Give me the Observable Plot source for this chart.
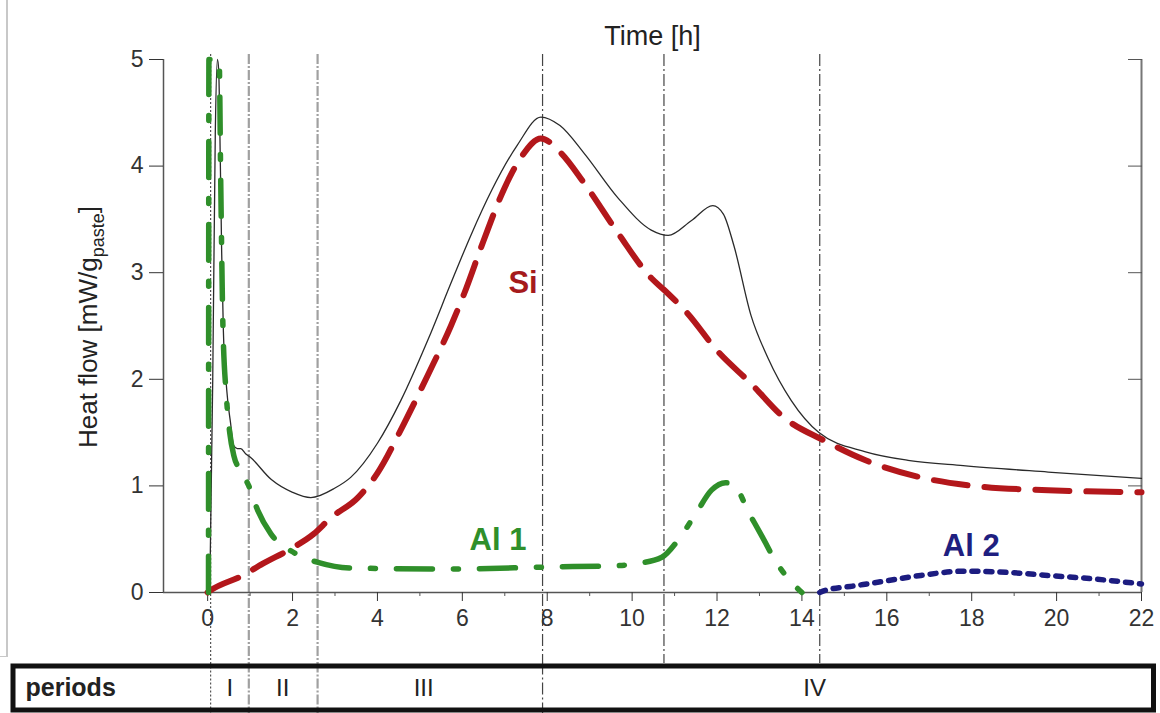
<!DOCTYPE html>
<html><head><meta charset="utf-8">
<script src="https://cdn.jsdelivr.net/npm/d3@7"></script>
<script src="https://cdn.jsdelivr.net/npm/@observablehq/plot@0.6"></script>
<style>
html,body{margin:0;padding:0;background:#fff;}
#wrap{position:relative;width:1160px;height:713px;overflow:hidden;font-family:"Liberation Sans",Arial,Helvetica,sans-serif;}
#top,#box{position:absolute;left:0;}
#top{top:0;} #box{top:663px;}
#edge{position:absolute;left:0;top:0;width:6px;height:656px;border-right:2px solid #c8c8c8;border-bottom:1px solid #c8c8c8;}
</style></head><body>
<div id="wrap"><div id="edge"></div><div id="top"></div><div id="box"></div></div>
<script>
// ---- data ----
const totalT = [0.05,0.12,0.18,0.23,0.26,0.3,0.33,0.37,0.45,0.54,0.61,0.7,0.78,0.9,1.0,1.5,2.0,2.43,3.0,3.37,4.0,4.55,5.2,5.73,6.2,6.7,7.3,7.85,8.3,8.87,9.67,10.45,10.85,11.4,11.9,12.15,12.4,12.8,13.2,13.75,14.4,15.5,16.5,17.8,19.8,22];
const totalQ = [0,2.0,4.3,5.0,4.9,4.0,3.2,2.46,1.9,1.59,1.38,1.35,1.35,1.3,1.27,1.06,0.94,0.89,0.98,1.08,1.4,1.8,2.38,2.9,3.35,3.78,4.2,4.46,4.38,4.12,3.7,3.4,3.35,3.49,3.63,3.55,3.25,2.6,2.2,1.8,1.5,1.32,1.24,1.19,1.13,1.07];

const siT = [0,0.07,0.83,1.3,1.96,2.5,2.9,3.54,4.0,4.62,5.2,5.73,6.04,6.5,7.0,7.38,7.85,8.33,8.87,9.67,10.45,10.75,11.3,12.0,12.8,13.58,14.5,15.5,16.8,18.3,19.8,22];
const siQ = [0,0.02,0.16,0.27,0.41,0.55,0.70,0.89,1.12,1.58,2.05,2.5,2.8,3.30,3.8,4.08,4.26,4.12,3.84,3.37,2.95,2.84,2.62,2.27,1.96,1.64,1.43,1.24,1.08,0.99,0.96,0.94];

const al1T = [0.02,0.03,0.27,0.31,0.36,0.44,0.52,0.62,0.8,0.97,1.18,1.49,2.05,2.62,3.37,5.7,8.1,9.5,10.1,10.7,11.08,11.5,11.87,12.2,12.37,12.76,13.07,13.37,13.7,14.0];
const al1Q = [0,5.0,5.0,3.8,2.5,1.85,1.5,1.28,1.13,1.0,0.77,0.55,0.37,0.28,0.23,0.22,0.24,0.25,0.27,0.33,0.49,0.74,0.96,1.03,1.02,0.74,0.52,0.30,0.12,0.0];

const al2T = [14.42,14.55,15.2,15.85,16.8,17.8,18.8,19.8,20.8,22];
const al2Q = [0,0.02,0.06,0.1,0.16,0.2,0.19,0.16,0.13,0.08];

const boundaries = [0.07, 0.97, 2.59, 7.89, 10.75, 14.42];
const periodNames = ["I", "II", "III", "IV"];
const periodLabelT = [0.52, 1.77, 5.09, 14.3];

const seriesLabels = ["Si", "Al 1", "Al 2"];
const seriesLabelT = [7.43, 6.84, 17.99];
const seriesLabelQ = [2.9, 0.49, 0.44];

const xMajorTicks = [0,2,4,6,8,10,12,14,16,18,20,22];
const xMinorTicks = [1,3,5,7,9,11,13,15,17,19,21];
const yTicks = [0,1,2,3,4,5];

// ---- tables ----
const toRows = (T, Q) => T.map((t, i) => ({t, q: Q[i]}));
const total = toRows(totalT, totalQ);
const si = toRows(siT, siQ);
const al1 = toRows(al1T, al1Q);
const al2 = toRows(al2T, al2Q);
const labels = seriesLabels.map((s, i) => ({s, t: seriesLabelT[i], q: seriesLabelQ[i]}));
const periods = periodNames.map((p, i) => ({p, t: periodLabelT[i]}));

const font = '"Liberation Sans", Arial, Helvetica, sans-serif';
const xDomain = [-1.04, 22];
const colors = {"Si": "#a51a1c", "Al 1": "#2f8f2a", "Al 2": "#1f1f80"};

const periodRuleStyles = [
  {stroke: "#555", strokeWidth: 1.2, strokeDasharray: "2,2"},
  {stroke: "#a0a0a0", strokeWidth: 2.2, strokeDasharray: "10,2,2,2"},
  {stroke: "#a0a0a0", strokeWidth: 2.2, strokeDasharray: "10,2,2,2"},
  {stroke: "#444", strokeWidth: 1.2, strokeDasharray: "12,3,2,3"},
  {stroke: "#444", strokeWidth: 1.2, strokeDasharray: "12,3,2,3"},
  {stroke: "#444", strokeWidth: 1.2, strokeDasharray: "12,3,2,3"}
];

const topPlot = Plot.plot({
  width: 1160, height: 663,
  marginTop: 59, marginBottom: 71, marginLeft: 163, marginRight: 19,
  x: {domain: xDomain},
  y: {domain: [0, 5]},
  style: {fontFamily: font, color: "#222", background: "transparent", overflow: "visible"},
  marks: [
    ...boundaries.map((b, i) => Plot.ruleX([b], {...periodRuleStyles[i], insetTop: -5, insetBottom: -71})),
    Plot.ruleY([0], {stroke: "#555", strokeWidth: 1.5}),
    Plot.ruleX([xDomain[0]], {stroke: "#555", strokeWidth: 1.5}),
    Plot.ruleX([xDomain[1]], {stroke: "#777", strokeWidth: 2}),
    Plot.axisY({anchor: "left", ticks: yTicks, tickSize: 14, tickPadding: 6, fontSize: 23, tickFormat: d3.format("d"), label: null, color: "#333"}),
    Plot.axisY({anchor: "right", ticks: yTicks, tickSize: 14, dx: -14, tickFormat: () => "", label: null, color: "#555"}),
    Plot.axisX({anchor: "bottom", ticks: xMajorTicks, tickSize: 9, tickPadding: 8, fontSize: 23, tickFormat: d3.format("d"), label: null, color: "#333"}),
    Plot.axisX({anchor: "bottom", ticks: xMinorTicks, tickSize: 4, tickFormat: () => "", label: null, color: "#555"}),
    Plot.line(total, {x: "t", y: "q", stroke: "#2a2a2a", strokeWidth: 1.3, curve: "monotone-x"}),
    Plot.line(si, {x: "t", y: "q", stroke: "#b3171b", strokeWidth: 6, strokeDasharray: "34,17", curve: "monotone-x"}),
    Plot.line(al1, {x: "t", y: "q", stroke: "#2f8f2a", strokeWidth: 5.5, strokeDasharray: "36,21,5,21", curve: "monotone-x"}),
    Plot.line(al2, {x: "t", y: "q", stroke: "#1c1c80", strokeWidth: 5.5, strokeDasharray: "6,8", curve: "monotone-x"}),
    Plot.text(labels, {x: "t", y: "q", text: "s", fill: d => colors[d.s], fontSize: 31, fontWeight: "bold"}),
    Plot.text(["Time [h]"], {frameAnchor: "top", dy: -34, fontSize: 27, fill: "#222"})
  ]
});
document.getElementById("top").appendChild(topPlot);

// y-axis label with subscript
const yl = d3.select(topPlot).append("text")
  .attr("transform", "translate(97,327) rotate(-90)")
  .attr("text-anchor", "middle")
  .attr("font-family", font)
  .attr("font-size", 26)
  .attr("fill", "#222");
yl.append("tspan").text("Heat flow [mW/g");
yl.append("tspan").attr("font-size", 18).attr("dy", 7).text("paste");
yl.append("tspan").attr("dy", -7).text("]");

const boxPlot = Plot.plot({
  width: 1160, height: 50,
  marginTop: 2.5, marginBottom: 3.5, marginLeft: 163, marginRight: 19,
  x: {domain: xDomain, axis: null},
  style: {fontFamily: font, color: "#222", background: "transparent", overflow: "visible"},
  marks: [
    ...boundaries.slice(0, 4).map((b, i) => Plot.ruleX([b], {...periodRuleStyles[i], insetTop: -3, insetBottom: -4})),
    Plot.frame({stroke: "#111", strokeWidth: 5, insetLeft: -150.5, insetRight: -12}),
    Plot.text(periods, {x: "t", text: "p", frameAnchor: "middle", fontSize: 24, fill: "#222"}),
    Plot.text(["periods"], {frameAnchor: "left", dx: -138, textAnchor: "start", fontSize: 25, fontWeight: "bold", fill: "#222"})
  ]
});
document.getElementById("box").appendChild(boxPlot);
</script>
</body></html>
